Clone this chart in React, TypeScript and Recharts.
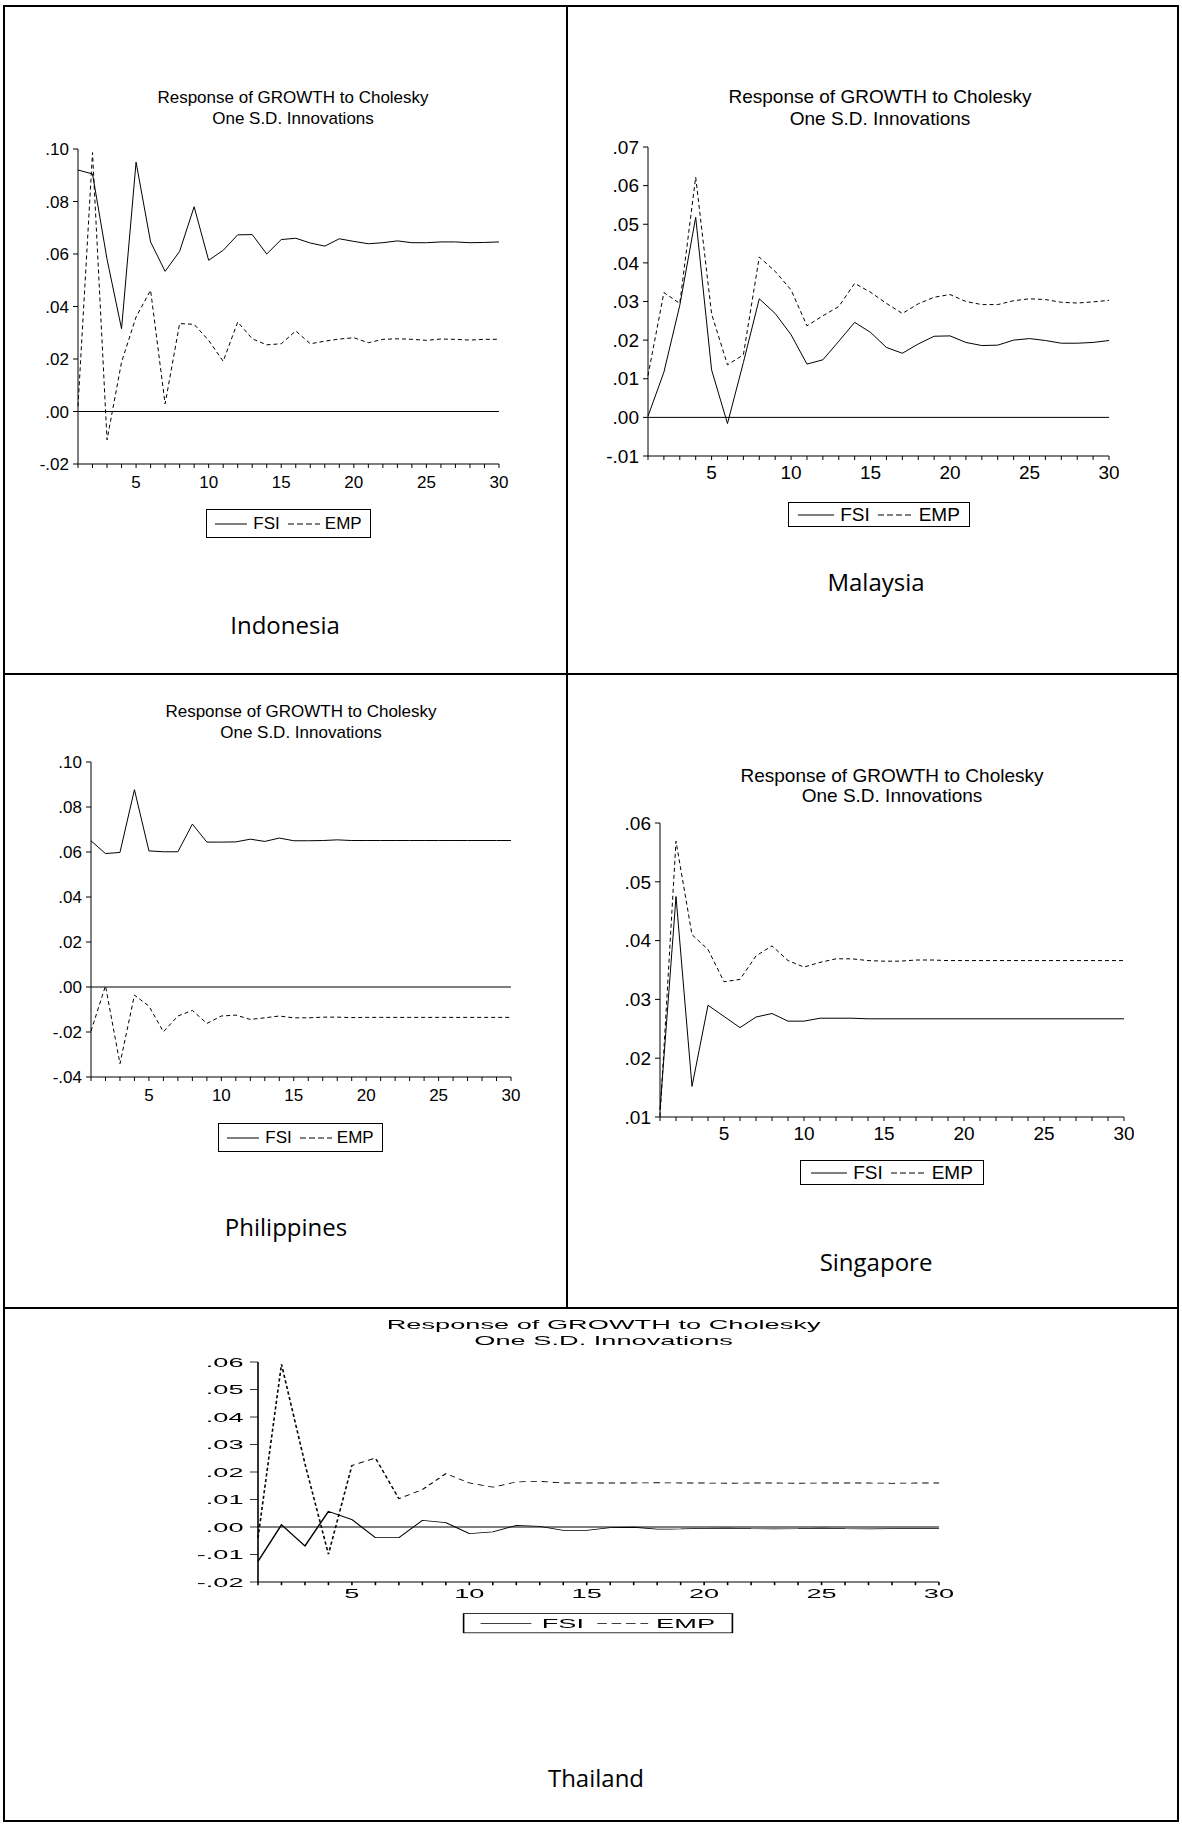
import { LineChart, Line, XAxis, YAxis, ReferenceLine } from 'recharts';

const periods = [1, 2, 3, 4, 5, 6, 7, 8, 9, 10, 11, 12, 13, 14, 15, 16, 17, 18, 19, 20, 21, 22, 23, 24, 25, 26, 27, 28, 29, 30];

const idnFsi = [0.092, 0.0905, 0.058, 0.0315, 0.095, 0.0646, 0.0534, 0.061, 0.078, 0.0576, 0.0614, 0.0673, 0.0674, 0.06, 0.0655, 0.066, 0.0642, 0.063, 0.0658, 0.0648, 0.0639, 0.0643, 0.065, 0.0643, 0.0643, 0.0646, 0.0646, 0.0643, 0.0644, 0.0646];
const idnEmp = [0.002, 0.0986, -0.0108, 0.0188, 0.036, 0.0462, 0.0029, 0.0335, 0.0332, 0.0271, 0.0191, 0.0341, 0.0277, 0.0254, 0.0258, 0.0307, 0.0258, 0.0268, 0.0276, 0.0281, 0.0262, 0.0275, 0.0277, 0.0275, 0.0271, 0.0276, 0.0275, 0.0272, 0.0275, 0.0275];
const idnTicks = [-0.02, 0, 0.02, 0.04, 0.06, 0.08, 0.1];

const mysFsi = [0.0003, 0.0117, 0.029, 0.0518, 0.0123, -0.0016, 0.0142, 0.0307, 0.0269, 0.0214, 0.0138, 0.0149, 0.0197, 0.0246, 0.022, 0.0181, 0.0166, 0.019, 0.021, 0.0211, 0.0194, 0.0186, 0.0187, 0.02, 0.0204, 0.0199, 0.0192, 0.0192, 0.0194, 0.0199];
const mysEmp = [0.0108, 0.0323, 0.0295, 0.0622, 0.0268, 0.0136, 0.0162, 0.0415, 0.0378, 0.033, 0.0237, 0.0263, 0.0287, 0.0347, 0.0324, 0.0295, 0.0269, 0.0294, 0.0311, 0.0318, 0.03, 0.0292, 0.0292, 0.0302, 0.0307, 0.0305, 0.0298, 0.0296, 0.0299, 0.0303];
const mysTicks = [-0.01, 0, 0.01, 0.02, 0.03, 0.04, 0.05, 0.06, 0.07];

const phlFsi = [0.065, 0.0593, 0.0598, 0.0877, 0.0605, 0.0601, 0.0601, 0.0724, 0.0644, 0.0644, 0.0645, 0.0657, 0.0647, 0.0662, 0.065, 0.065, 0.0651, 0.0654, 0.0651, 0.0651, 0.0651, 0.0651, 0.0651, 0.0651, 0.0651, 0.0651, 0.0651, 0.0651, 0.0651, 0.0651];
const phlEmp = [-0.0196, 0.0005, -0.0341, -0.0036, -0.0085, -0.0199, -0.0129, -0.0104, -0.0162, -0.0129, -0.0125, -0.0144, -0.0137, -0.0129, -0.0137, -0.0137, -0.0134, -0.0134, -0.0136, -0.0135, -0.0135, -0.0135, -0.0135, -0.0135, -0.0135, -0.0135, -0.0135, -0.0135, -0.0135, -0.0135];
const phlTicks = [-0.04, -0.02, 0, 0.02, 0.04, 0.06, 0.08, 0.1];

const sgpFsi = [0.0112, 0.0475, 0.0152, 0.029, 0.0271, 0.0252, 0.027, 0.0276, 0.0263, 0.0263, 0.0268, 0.0268, 0.0268, 0.0267, 0.0267, 0.0267, 0.0267, 0.0267, 0.0267, 0.0267, 0.0267, 0.0267, 0.0267, 0.0267, 0.0267, 0.0267, 0.0267, 0.0267, 0.0267, 0.0267];
const sgpEmp = [0.0101, 0.0569, 0.041, 0.0385, 0.033, 0.0334, 0.0374, 0.0391, 0.0366, 0.0355, 0.0363, 0.0369, 0.0369, 0.0366, 0.0365, 0.0365, 0.0367, 0.0367, 0.0366, 0.0366, 0.0366, 0.0366, 0.0366, 0.0366, 0.0366, 0.0366, 0.0366, 0.0366, 0.0366, 0.0366];
const sgpTicks = [0.01, 0.02, 0.03, 0.04, 0.05, 0.06];

const thaFsi = [-0.0125, 0.0008, -0.0069, 0.0057, 0.0027, -0.0039, -0.0039, 0.0024, 0.0016, -0.0024, -0.0018, 0.0006, 0.0002, -0.0012, -0.0012, -0.0002, -0.0001, -0.0008, -0.0007, -0.0005, -0.0004, -0.0006, -0.0007, -0.0006, -0.0004, -0.0006, -0.0007, -0.0006, -0.0006, -0.0006];
const thaEmp = [-0.004, 0.0592, 0.023, -0.0099, 0.0224, 0.0251, 0.0103, 0.0136, 0.0194, 0.016, 0.0145, 0.0164, 0.0166, 0.016, 0.016, 0.016, 0.016, 0.0161, 0.016, 0.016, 0.0159, 0.016, 0.016, 0.0159, 0.016, 0.016, 0.016, 0.0159, 0.016, 0.016];
const thaTicks = [-0.02, -0.01, 0, 0.01, 0.02, 0.03, 0.04, 0.05, 0.06];

const titleLines = ['Response of GROWTH to Cholesky', 'One S.D. Innovations'];
const seriesNames = ['FSI', 'EMP'];

const chartFont = '"Liberation Sans", Arial, sans-serif';
const labelFont = '"Open Sans", "Noto Sans", sans-serif';

const fmtY = (v: number) => {
  const s = Math.abs(v).toFixed(2).replace(/^0/, '');
  return v < -1e-9 ? '-' + s : s;
};

interface PanelCfg {
  fsi: number[];
  emp: number[];
  ticks: number[];
  zero: boolean;
  px: number; py: number; pw: number; ph: number;
  sx: number; sy: number;
  fs: number;
  lh: number;
  titleCx: number; titleTop: number;
  leg: { x: number; y: number; w: number; h: number };
  xMargin: number;
}

const panels: PanelCfg[] = [
  { fsi: idnFsi, emp: idnEmp, ticks: idnTicks, zero: true, px: 78, py: 149, pw: 421, ph: 315, sx: 1, sy: 1, fs: 17, lh: 21, titleCx: 215, titleTop: -62, leg: { x: 128, y: 360, w: 165, h: 29 }, xMargin: 8 },
  { fsi: mysFsi, emp: mysEmp, ticks: mysTicks, zero: true, px: 648, py: 147, pw: 461, ph: 309, sx: 1, sy: 1, fs: 19, lh: 22, titleCx: 232, titleTop: -61, leg: { x: 140, y: 355, w: 182, h: 25 }, xMargin: 6 },
  { fsi: phlFsi, emp: phlEmp, ticks: phlTicks, zero: true, px: 91, py: 762, pw: 420, ph: 315, sx: 1, sy: 1, fs: 17, lh: 21, titleCx: 210, titleTop: -61, leg: { x: 127, y: 361, w: 165, h: 29 }, xMargin: 8 },
  { fsi: sgpFsi, emp: sgpEmp, ticks: sgpTicks, zero: false, px: 660, py: 823, pw: 464, ph: 294, sx: 1, sy: 1, fs: 19, lh: 20, titleCx: 232, titleTop: -57, leg: { x: 140, y: 337, w: 184, h: 25 }, xMargin: 6 },
  { fsi: thaFsi, emp: thaEmp, ticks: thaTicks, zero: true, px: 258, py: 1362, pw: 425.6, ph: 275, sx: 1.6, sy: 0.8, fs: 17, lh: 20, titleCx: 216, titleTop: -56, leg: { x: 128, y: 314, w: 169, h: 25 }, xMargin: 4 },
];

const countryLabels = [
  { name: 'Indonesia', x: 285, y: 625 },
  { name: 'Malaysia', x: 876, y: 582 },
  { name: 'Philippines', x: 286, y: 1227 },
  { name: 'Singapore', x: 876, y: 1262 },
  { name: 'Thailand', x: 596, y: 1778 },
];

const Sample = ({ dashed, len }: { dashed: boolean; len: number }) => (
  <svg width={len} height={10} style={{ display: 'block' }}>
    <line x1={0} y1={5} x2={len} y2={5} stroke="#000" strokeWidth={1} strokeDasharray={dashed ? '6 3' : undefined} />
  </svg>
);

const Panel = ({ c }: { c: PanelCfg }) => {
  const rows = periods.map((p, i) => ({ period: p, fsi: c.fsi[i], emp: c.emp[i] }));
  const yW = 60;
  const mT = 10;
  const mR = 10;
  const xH = 40;
  const domain: [number, number] = [c.ticks[0], c.ticks[c.ticks.length - 1]];
  const tickStyle = { fill: '#000', fontSize: c.fs, fontFamily: chartFont };
  const sLen = Math.round(c.fs * 1.9);
  return (
    <div
      style={{
        position: 'absolute',
        left: c.px,
        top: c.py,
        width: c.pw,
        height: c.ph,
        transform: `scale(${c.sx}, ${c.sy})`,
        transformOrigin: '0 0',
      }}
    >
      <div
        style={{
          position: 'absolute',
          left: c.titleCx - 250,
          top: c.titleTop,
          width: 500,
          textAlign: 'center',
          fontFamily: chartFont,
          fontSize: c.fs,
          lineHeight: `${c.lh}px`,
          color: '#000',
          whiteSpace: 'nowrap',
        }}
      >
        {titleLines.map((t) => (
          <div key={t}>{t}</div>
        ))}
      </div>
      <div style={{ position: 'absolute', left: -yW, top: -mT }}>
        <LineChart width={yW + c.pw + mR} height={mT + c.ph + xH} data={rows} margin={{ top: mT, right: mR, bottom: 0, left: 0 }}>
          <XAxis
            dataKey="period"
            type="number"
            domain={[1, 30]}
            ticks={periods}
            interval={0}
            tickFormatter={(v: number) => (v % 5 === 0 ? String(v) : '')}
            height={xH}
            tickSize={4}
            tickMargin={c.xMargin}
            stroke="#000"
            tick={tickStyle}
          />
          <XAxis xAxisId="top" orientation="top" dataKey="period" type="number" domain={[1, 30]} tick={false} tickLine={false} height={0} stroke="#000" />
          <YAxis
            type="number"
            domain={domain}
            ticks={c.ticks}
            interval={0}
            tickFormatter={fmtY}
            width={yW}
            tickSize={5}
            tickMargin={4}
            stroke="#000"
            tick={tickStyle}
          />
          <YAxis yAxisId="right" orientation="right" type="number" domain={domain} tick={false} tickLine={false} width={0} stroke="#000" />
          {c.zero && <ReferenceLine y={0} stroke="#000" strokeWidth={1} />}
          <Line type="linear" dataKey="fsi" stroke="#000" strokeWidth={1} dot={false} isAnimationActive={false} />
          <Line type="linear" dataKey="emp" stroke="#000" strokeWidth={1} strokeDasharray="4 3" dot={false} isAnimationActive={false} />
        </LineChart>
      </div>
      <div
        style={{
          position: 'absolute',
          left: c.leg.x,
          top: c.leg.y,
          width: c.leg.w,
          height: c.leg.h,
          boxSizing: 'border-box',
          border: '1px solid #000',
          display: 'flex',
          alignItems: 'center',
          justifyContent: 'center',
          fontFamily: chartFont,
          fontSize: c.fs,
          color: '#000',
          background: '#fff',
        }}
      >
        <Sample dashed={false} len={sLen} />
        <span style={{ marginLeft: 6, marginRight: 8 }}>{seriesNames[0]}</span>
        <Sample dashed={true} len={sLen} />
        <span style={{ marginLeft: 5 }}>{seriesNames[1]}</span>
      </div>
    </div>
  );
};

const Rule = ({ x, y, w, h }: { x: number; y: number; w: number; h: number }) => (
  <div style={{ position: 'absolute', left: x, top: y, width: w, height: h, background: '#000' }} />
);

export default function App() {
  return (
    <div style={{ position: 'absolute', left: 0, top: 0, width: 1182, height: 1825, background: '#fff', overflow: 'hidden' }}>
      <Rule x={3} y={5} w={1176} h={2} />
      <Rule x={3} y={1820} w={1176} h={2} />
      <Rule x={3} y={5} w={2} h={1817} />
      <Rule x={1177} y={5} w={2} h={1817} />
      <Rule x={566} y={5} w={2} h={1303} />
      <Rule x={3} y={673} w={1176} h={2} />
      <Rule x={3} y={1307} w={1176} h={2} />
      {panels.map((c, i) => (
        <Panel key={i} c={c} />
      ))}
      {countryLabels.map((l) => (
        <div
          key={l.name}
          style={{
            position: 'absolute',
            left: l.x - 150,
            top: l.y - 17,
            width: 300,
            height: 34,
            lineHeight: '34px',
            textAlign: 'center',
            fontFamily: labelFont,
            fontSize: 24,
            color: '#000',
          }}
        >
          {l.name}
        </div>
      ))}
    </div>
  );
}
